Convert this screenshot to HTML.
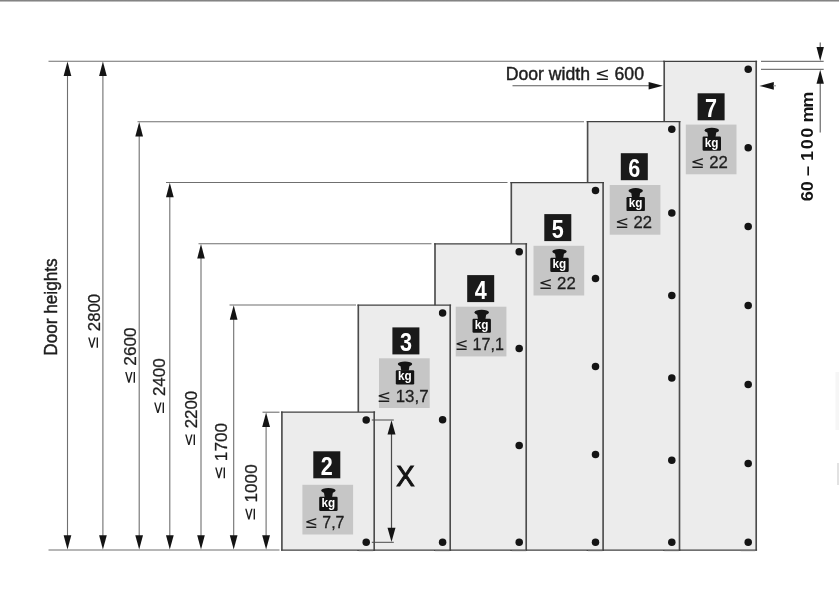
<!DOCTYPE html>
<html lang="en">
<head>
<meta charset="utf-8">
<title>Door heights</title>
<style>
html,body{margin:0;padding:0;background:#fff;}
body{width:839px;height:600px;overflow:hidden;}
svg{display:block;}
text{font-family:"Liberation Sans", sans-serif;}
</style>
</head>
<body>
<svg width="839" height="600" viewBox="0 0 839 600">
<defs><linearGradient id="tg" x1="0" y1="0" x2="0" y2="1"><stop offset="0" stop-color="#7a7a7a"/><stop offset="0.45" stop-color="#8c8c8c"/><stop offset="1" stop-color="#ffffff"/></linearGradient></defs>
<rect x="0" y="0" width="839" height="600" fill="#ffffff"/>
<rect x="0" y="0" width="839" height="2.2" fill="url(#tg)"/>
<rect x="835.5" y="372" width="3.5" height="58" fill="#f6f6f6"/>
<rect x="837" y="463" width="2" height="22" fill="#e2e2e2"/>
<g id="dims">
<line x1="48.5" y1="550.0" x2="279.5" y2="550.0" stroke="#6f6f6f" stroke-width="1.10"/>
<line x1="48.5" y1="61.3" x2="664.2" y2="61.3" stroke="#6f6f6f" stroke-width="1.10"/>
<line x1="67.5" y1="67.3" x2="67.5" y2="544.0" stroke="#6f6f6f" stroke-width="1.10"/>
<polygon points="67.5,61.6 63.6,76.0 71.3,76.0" fill="#141414"/>
<polygon points="67.5,549.6 63.6,535.2 71.3,535.2" fill="#141414"/>
<line x1="102.9" y1="67.3" x2="102.9" y2="544.0" stroke="#6f6f6f" stroke-width="1.10"/>
<polygon points="102.9,61.6 99.1,76.0 106.8,76.0" fill="#141414"/>
<polygon points="102.9,549.6 99.1,535.2 106.8,535.2" fill="#141414"/>
<line x1="137.5" y1="121.7" x2="584.0" y2="121.7" stroke="#6f6f6f" stroke-width="1.10"/>
<line x1="139.2" y1="127.7" x2="139.2" y2="544.0" stroke="#6f6f6f" stroke-width="1.10"/>
<polygon points="139.2,122.0 135.3,136.4 143.0,136.4" fill="#141414"/>
<polygon points="139.2,549.6 135.3,535.2 143.0,535.2" fill="#141414"/>
<line x1="166.0" y1="182.5" x2="507.5" y2="182.5" stroke="#6f6f6f" stroke-width="1.10"/>
<line x1="169.8" y1="188.5" x2="169.8" y2="544.0" stroke="#6f6f6f" stroke-width="1.10"/>
<polygon points="169.8,182.8 166.0,197.2 173.7,197.2" fill="#141414"/>
<polygon points="169.8,549.6 166.0,535.2 173.7,535.2" fill="#141414"/>
<line x1="198.5" y1="243.8" x2="431.5" y2="243.8" stroke="#6f6f6f" stroke-width="1.10"/>
<line x1="201.0" y1="249.8" x2="201.0" y2="544.0" stroke="#6f6f6f" stroke-width="1.10"/>
<polygon points="201.0,244.1 197.2,258.5 204.8,258.5" fill="#141414"/>
<polygon points="201.0,549.6 197.2,535.2 204.8,535.2" fill="#141414"/>
<line x1="229.5" y1="305.0" x2="356.0" y2="305.0" stroke="#6f6f6f" stroke-width="1.10"/>
<line x1="233.7" y1="311.0" x2="233.7" y2="544.0" stroke="#6f6f6f" stroke-width="1.10"/>
<polygon points="233.7,305.3 229.8,319.7 237.5,319.7" fill="#141414"/>
<polygon points="233.7,549.6 229.8,535.2 237.5,535.2" fill="#141414"/>
<line x1="262.5" y1="412.2" x2="279.5" y2="412.2" stroke="#6f6f6f" stroke-width="1.10"/>
<line x1="266.1" y1="418.2" x2="266.1" y2="544.0" stroke="#6f6f6f" stroke-width="1.10"/>
<polygon points="266.1,412.5 262.2,426.9 270.0,426.9" fill="#141414"/>
<polygon points="266.1,549.6 262.2,535.2 270.0,535.2" fill="#141414"/>
</g>
<g id="panel7">
<rect x="664.2" y="61.3" width="92.2" height="488.7" fill="#ececec"/>
<line x1="664.2" y1="60.7" x2="664.2" y2="550.6" stroke="#4c4c4c" stroke-width="1.65"/>
<line x1="756.2" y1="60.7" x2="756.2" y2="550.6" stroke="#4c4c4c" stroke-width="1.65"/>
<line x1="663.3" y1="61.3" x2="757.1" y2="61.3" stroke="#404040" stroke-width="1.25"/>
<line x1="663.3" y1="550.0" x2="757.1" y2="550.0" stroke="#404040" stroke-width="1.25"/>
<circle cx="748.2" cy="69.2" r="3.75" fill="#141414"/>
<circle cx="748.2" cy="147.8" r="3.75" fill="#141414"/>
<circle cx="748.2" cy="226.6" r="3.75" fill="#141414"/>
<circle cx="748.2" cy="305.5" r="3.75" fill="#141414"/>
<circle cx="748.2" cy="384.4" r="3.75" fill="#141414"/>
<circle cx="748.2" cy="463.4" r="3.75" fill="#141414"/>
<circle cx="748.2" cy="542.3" r="3.75" fill="#141414"/>
<line x1="740.7" y1="550.7" x2="755.2" y2="550.7" stroke="#7a7a7a" stroke-width="0.80"/>
<rect x="697.6" y="93.3" width="27" height="27" fill="#1a1a1a"/>
<text x="711.1" y="116.8" font-size="25" font-weight="bold" fill="#ffffff" text-anchor="middle" textLength="12" lengthAdjust="spacingAndGlyphs">7</text>
<rect x="685.8" y="124.6" width="50.7" height="49.7" fill="#c6c6c6"/>
<ellipse cx="711.8" cy="130.4" rx="7.2" ry="2.7" fill="#141414"/>
<polygon points="707.2,131.6 716.4,131.6 715.5,137.1 708.1,137.1" fill="#141414"/>
<rect x="702.6" y="136.6" width="18.4" height="14.1" rx="1.2" fill="#141414"/>
<text x="711.7" y="146.7" font-size="12.8" font-weight="bold" fill="#ffffff" text-anchor="middle" textLength="13.7" lengthAdjust="spacingAndGlyphs">kg</text>
<text x="690.49" y="168.0" font-size="17" fill="#1e1e1e" stroke="#1e1e1e" stroke-width="0.3" textLength="37.27" lengthAdjust="spacingAndGlyphs"><tspan font-family="DejaVu Sans, sans-serif" stroke="none">≤</tspan> 22</text>
</g>
<g id="panel6">
<rect x="587.6" y="121.7" width="92.1" height="428.3" fill="#ececec"/>
<line x1="587.6" y1="121.1" x2="587.6" y2="550.6" stroke="#4c4c4c" stroke-width="1.65"/>
<line x1="679.5" y1="121.1" x2="679.5" y2="550.6" stroke="#4c4c4c" stroke-width="1.65"/>
<line x1="586.7" y1="121.7" x2="680.4" y2="121.7" stroke="#404040" stroke-width="1.25"/>
<line x1="586.7" y1="550.0" x2="680.4" y2="550.0" stroke="#404040" stroke-width="1.25"/>
<circle cx="671.8" cy="129.3" r="3.75" fill="#141414"/>
<circle cx="671.8" cy="212.9" r="3.75" fill="#141414"/>
<circle cx="671.8" cy="295.6" r="3.75" fill="#141414"/>
<circle cx="671.8" cy="378.0" r="3.75" fill="#141414"/>
<circle cx="671.8" cy="460.2" r="3.75" fill="#141414"/>
<circle cx="671.8" cy="542.3" r="3.75" fill="#141414"/>
<line x1="664.3" y1="550.7" x2="678.8" y2="550.7" stroke="#7a7a7a" stroke-width="0.80"/>
<rect x="620.8" y="153.2" width="27" height="27" fill="#1a1a1a"/>
<text x="634.3" y="176.7" font-size="25" font-weight="bold" fill="#ffffff" text-anchor="middle" textLength="12" lengthAdjust="spacingAndGlyphs">6</text>
<rect x="609.7" y="185.0" width="50.7" height="49.7" fill="#c6c6c6"/>
<ellipse cx="635.7" cy="190.8" rx="7.2" ry="2.7" fill="#141414"/>
<polygon points="631.1,192.0 640.3,192.0 639.4,197.5 632.0,197.5" fill="#141414"/>
<rect x="626.5" y="197.0" width="18.4" height="14.1" rx="1.2" fill="#141414"/>
<text x="635.6" y="207.1" font-size="12.8" font-weight="bold" fill="#ffffff" text-anchor="middle" textLength="13.7" lengthAdjust="spacingAndGlyphs">kg</text>
<text x="614.89" y="228.4" font-size="17" fill="#1e1e1e" stroke="#1e1e1e" stroke-width="0.3" textLength="37.00" lengthAdjust="spacingAndGlyphs"><tspan font-family="DejaVu Sans, sans-serif" stroke="none">≤</tspan> 22</text>
</g>
<g id="panel5">
<rect x="511.3" y="182.5" width="92.0" height="367.5" fill="#ececec"/>
<line x1="511.3" y1="181.9" x2="511.3" y2="550.6" stroke="#4c4c4c" stroke-width="1.65"/>
<line x1="603.1" y1="181.9" x2="603.1" y2="550.6" stroke="#4c4c4c" stroke-width="1.65"/>
<line x1="510.4" y1="182.5" x2="604.0" y2="182.5" stroke="#404040" stroke-width="1.25"/>
<line x1="510.4" y1="550.0" x2="604.0" y2="550.0" stroke="#404040" stroke-width="1.25"/>
<circle cx="595.5" cy="190.4" r="3.75" fill="#141414"/>
<circle cx="595.5" cy="278.4" r="3.75" fill="#141414"/>
<circle cx="595.5" cy="366.4" r="3.75" fill="#141414"/>
<circle cx="595.5" cy="454.4" r="3.75" fill="#141414"/>
<circle cx="595.5" cy="542.3" r="3.75" fill="#141414"/>
<line x1="588.0" y1="550.7" x2="602.5" y2="550.7" stroke="#7a7a7a" stroke-width="0.80"/>
<rect x="544.3" y="214.1" width="27" height="27" fill="#1a1a1a"/>
<text x="557.8" y="237.6" font-size="25" font-weight="bold" fill="#ffffff" text-anchor="middle" textLength="12" lengthAdjust="spacingAndGlyphs">5</text>
<rect x="533.5" y="245.8" width="50.7" height="49.7" fill="#c6c6c6"/>
<ellipse cx="559.5" cy="251.6" rx="7.2" ry="2.7" fill="#141414"/>
<polygon points="554.9,252.8 564.1,252.8 563.2,258.3 555.8,258.3" fill="#141414"/>
<rect x="550.3" y="257.8" width="18.4" height="14.1" rx="1.2" fill="#141414"/>
<text x="559.4" y="267.9" font-size="12.8" font-weight="bold" fill="#ffffff" text-anchor="middle" textLength="13.7" lengthAdjust="spacingAndGlyphs">kg</text>
<text x="538.43" y="289.2" font-size="17" fill="#1e1e1e" stroke="#1e1e1e" stroke-width="0.3" textLength="37.27" lengthAdjust="spacingAndGlyphs"><tspan font-family="DejaVu Sans, sans-serif" stroke="none">≤</tspan> 22</text>
</g>
<g id="panel4">
<rect x="435.0" y="243.8" width="91.4" height="306.2" fill="#ececec"/>
<line x1="435.0" y1="243.2" x2="435.0" y2="550.6" stroke="#4c4c4c" stroke-width="1.65"/>
<line x1="526.2" y1="243.2" x2="526.2" y2="550.6" stroke="#4c4c4c" stroke-width="1.65"/>
<line x1="434.1" y1="243.8" x2="527.1" y2="243.8" stroke="#404040" stroke-width="1.25"/>
<line x1="434.1" y1="550.0" x2="527.1" y2="550.0" stroke="#404040" stroke-width="1.25"/>
<circle cx="519.2" cy="251.8" r="3.75" fill="#141414"/>
<circle cx="519.2" cy="348.4" r="3.75" fill="#141414"/>
<circle cx="519.2" cy="445.4" r="3.75" fill="#141414"/>
<circle cx="519.2" cy="542.3" r="3.75" fill="#141414"/>
<line x1="511.7" y1="550.7" x2="526.2" y2="550.7" stroke="#7a7a7a" stroke-width="0.80"/>
<rect x="467.2" y="275.1" width="27" height="27" fill="#1a1a1a"/>
<text x="480.7" y="298.6" font-size="25" font-weight="bold" fill="#ffffff" text-anchor="middle" textLength="12" lengthAdjust="spacingAndGlyphs">4</text>
<rect x="455.7" y="306.7" width="50.7" height="49.7" fill="#c6c6c6"/>
<ellipse cx="481.7" cy="312.5" rx="7.2" ry="2.7" fill="#141414"/>
<polygon points="477.1,313.7 486.3,313.7 485.4,319.2 478.0,319.2" fill="#141414"/>
<rect x="472.5" y="318.7" width="18.4" height="14.1" rx="1.2" fill="#141414"/>
<text x="481.6" y="328.8" font-size="12.8" font-weight="bold" fill="#ffffff" text-anchor="middle" textLength="13.7" lengthAdjust="spacingAndGlyphs">kg</text>
<text x="454.63" y="350.1" font-size="17" fill="#1e1e1e" stroke="#1e1e1e" stroke-width="0.3" textLength="49.30" lengthAdjust="spacingAndGlyphs"><tspan font-family="DejaVu Sans, sans-serif" stroke="none">≤</tspan> 17,1</text>
</g>
<g id="panel3">
<rect x="358.3" y="305.2" width="92.1" height="244.8" fill="#ececec"/>
<line x1="358.3" y1="304.6" x2="358.3" y2="550.6" stroke="#4c4c4c" stroke-width="1.65"/>
<line x1="450.2" y1="304.6" x2="450.2" y2="550.6" stroke="#4c4c4c" stroke-width="1.65"/>
<line x1="357.4" y1="305.2" x2="451.1" y2="305.2" stroke="#404040" stroke-width="1.25"/>
<line x1="357.4" y1="550.0" x2="451.1" y2="550.0" stroke="#404040" stroke-width="1.25"/>
<circle cx="442.6" cy="312.9" r="3.75" fill="#141414"/>
<circle cx="442.6" cy="419.8" r="3.75" fill="#141414"/>
<circle cx="442.6" cy="542.3" r="3.75" fill="#141414"/>
<line x1="435.1" y1="550.7" x2="449.6" y2="550.7" stroke="#7a7a7a" stroke-width="0.80"/>
<rect x="392.4" y="327.4" width="27" height="27" fill="#1a1a1a"/>
<text x="405.9" y="350.9" font-size="25" font-weight="bold" fill="#ffffff" text-anchor="middle" textLength="12" lengthAdjust="spacingAndGlyphs">3</text>
<rect x="379.0" y="358.3" width="50.7" height="49.7" fill="#c6c6c6"/>
<ellipse cx="405.0" cy="364.1" rx="7.2" ry="2.7" fill="#141414"/>
<polygon points="400.4,365.3 409.6,365.3 408.7,370.8 401.3,370.8" fill="#141414"/>
<rect x="395.8" y="370.3" width="18.4" height="14.1" rx="1.2" fill="#141414"/>
<text x="404.9" y="380.4" font-size="12.8" font-weight="bold" fill="#ffffff" text-anchor="middle" textLength="13.7" lengthAdjust="spacingAndGlyphs">kg</text>
<text x="376.86" y="401.7" font-size="17" fill="#1e1e1e" stroke="#1e1e1e" stroke-width="0.3" textLength="51.69" lengthAdjust="spacingAndGlyphs"><tspan font-family="DejaVu Sans, sans-serif" stroke="none">≤</tspan> 13,7</text>
</g>
<g id="panel2">
<rect x="281.9" y="412.0" width="92.5" height="138.0" fill="#ececec"/>
<line x1="281.9" y1="411.4" x2="281.9" y2="550.6" stroke="#4c4c4c" stroke-width="1.65"/>
<line x1="374.2" y1="411.4" x2="374.2" y2="550.6" stroke="#4c4c4c" stroke-width="1.65"/>
<line x1="281.0" y1="412.0" x2="375.1" y2="412.0" stroke="#404040" stroke-width="1.25"/>
<line x1="281.0" y1="550.0" x2="375.1" y2="550.0" stroke="#404040" stroke-width="1.25"/>
<circle cx="366.2" cy="420.0" r="3.75" fill="#141414"/>
<circle cx="366.2" cy="542.3" r="3.75" fill="#141414"/>
<line x1="358.7" y1="550.7" x2="373.2" y2="550.7" stroke="#7a7a7a" stroke-width="0.80"/>
<rect x="313.3" y="451.3" width="27" height="27" fill="#1a1a1a"/>
<text x="326.8" y="474.8" font-size="25" font-weight="bold" fill="#ffffff" text-anchor="middle" textLength="12" lengthAdjust="spacingAndGlyphs">2</text>
<rect x="302.4" y="484.8" width="50.7" height="49.7" fill="#c6c6c6"/>
<ellipse cx="328.4" cy="490.6" rx="7.2" ry="2.7" fill="#141414"/>
<polygon points="323.8,491.8 333.0,491.8 332.1,497.3 324.7,497.3" fill="#141414"/>
<rect x="319.2" y="496.8" width="18.4" height="14.1" rx="1.2" fill="#141414"/>
<text x="328.3" y="506.9" font-size="12.8" font-weight="bold" fill="#ffffff" text-anchor="middle" textLength="13.7" lengthAdjust="spacingAndGlyphs">kg</text>
<text x="304.57" y="528.2" font-size="17" fill="#1e1e1e" stroke="#1e1e1e" stroke-width="0.3" textLength="39.92" lengthAdjust="spacingAndGlyphs"><tspan font-family="DejaVu Sans, sans-serif" stroke="none">≤</tspan> 7,7</text>
</g>
<g id="xdim">
<line x1="371.8" y1="420.0" x2="393.8" y2="420.0" stroke="#4a4a4a" stroke-width="1.00"/>
<line x1="371.8" y1="542.3" x2="393.8" y2="542.3" stroke="#4a4a4a" stroke-width="1.00"/>
<line x1="391.5" y1="426.0" x2="391.5" y2="536.0" stroke="#4a4a4a" stroke-width="1.20"/>
<polygon points="391.5,420.3 387.5,434.5 395.5,434.5" fill="#141414"/>
<polygon points="391.5,542.0 387.5,527.8 395.5,527.8" fill="#141414"/>
<text x="405.4" y="485.7" font-size="29" fill="#141414" stroke="#141414" stroke-width="1.0" text-anchor="middle" textLength="18.4" lengthAdjust="spacingAndGlyphs">X</text>
</g>
<g id="doorwidth">
<line x1="512.5" y1="85.8" x2="652.0" y2="85.8" stroke="#5a5a5a" stroke-width="1.10"/>
<polygon points="662.8,85.8 648.6,82.1 648.6,89.5" fill="#141414"/>
<polygon points="759.4,85.9 773.8,82.1 773.8,89.7" fill="#141414"/>
<line x1="773.0" y1="85.8" x2="776.0" y2="85.8" stroke="#8a8a8a" stroke-width="1.00"/>
<text x="505.75" y="79.9" font-size="18" fill="#1e1e1e" stroke="#1e1e1e" stroke-width="0.45" textLength="138.25" lengthAdjust="spacingAndGlyphs">Door width <tspan font-family="DejaVu Sans, sans-serif" stroke="none">≤</tspan> 600</text>
</g>
<g id="gap">
<line x1="761.0" y1="61.3" x2="823.7" y2="61.3" stroke="#555555" stroke-width="1.00"/>
<line x1="761.0" y1="69.3" x2="823.7" y2="69.3" stroke="#555555" stroke-width="1.00"/>
<line x1="820.2" y1="42.5" x2="820.2" y2="50.0" stroke="#4a4a4a" stroke-width="1.00"/>
<line x1="820.2" y1="80.0" x2="820.2" y2="132.5" stroke="#4a4a4a" stroke-width="1.00"/>
<polygon points="820.2,61.0 816.5,47.0 823.9,47.0" fill="#141414"/>
<polygon points="820.2,69.8 816.5,83.8 823.9,83.8" fill="#141414"/>
<text transform="translate(813.2 201.24) rotate(-90)" font-size="17" font-weight="bold" fill="#141414" textLength="108.25" lengthAdjust="spacingAndGlyphs">60 – <tspan letter-spacing="1.5">100</tspan><tspan dx="-1.5"> </tspan><tspan letter-spacing="-1.2">mm</tspan></text>
</g>
<g id="labels">
<text transform="translate(57.3 355.65) rotate(-90)" font-size="18.8" fill="#1e1e1e" stroke="#1e1e1e" stroke-width="0.45" textLength="97.25" lengthAdjust="spacingAndGlyphs">Door heights</text>
<text transform="translate(99.7 349.8) rotate(-90)" font-size="17" fill="#1e1e1e" stroke="#1e1e1e" stroke-width="0.3" textLength="55.8" lengthAdjust="spacingAndGlyphs"><tspan font-family="DejaVu Sans, sans-serif" stroke="none" dy="-1.3">≤</tspan><tspan dy="1.3"> </tspan>2800</text>
<text transform="translate(136.0 384.8) rotate(-90)" font-size="17" fill="#1e1e1e" stroke="#1e1e1e" stroke-width="0.3" textLength="57.3" lengthAdjust="spacingAndGlyphs"><tspan font-family="DejaVu Sans, sans-serif" stroke="none" dy="-1.3">≤</tspan><tspan dy="1.3"> </tspan>2600</text>
<text transform="translate(164.8 415.1) rotate(-90)" font-size="17" fill="#1e1e1e" stroke="#1e1e1e" stroke-width="0.3" textLength="56.9" lengthAdjust="spacingAndGlyphs"><tspan font-family="DejaVu Sans, sans-serif" stroke="none" dy="-1.3">≤</tspan><tspan dy="1.3"> </tspan>2400</text>
<text transform="translate(196.7 447.1) rotate(-90)" font-size="17" fill="#1e1e1e" stroke="#1e1e1e" stroke-width="0.3" textLength="56.3" lengthAdjust="spacingAndGlyphs"><tspan font-family="DejaVu Sans, sans-serif" stroke="none" dy="-1.3">≤</tspan><tspan dy="1.3"> </tspan>2200</text>
<text transform="translate(226.6 480.3) rotate(-90)" font-size="17" fill="#1e1e1e" stroke="#1e1e1e" stroke-width="0.3" textLength="57.3" lengthAdjust="spacingAndGlyphs"><tspan font-family="DejaVu Sans, sans-serif" stroke="none" dy="-1.3">≤</tspan><tspan dy="1.3"> </tspan>1700</text>
<text transform="translate(256.5 521.6) rotate(-90)" font-size="17" fill="#1e1e1e" stroke="#1e1e1e" stroke-width="0.3" textLength="57.3" lengthAdjust="spacingAndGlyphs"><tspan font-family="DejaVu Sans, sans-serif" stroke="none" dy="-1.3">≤</tspan><tspan dy="1.3"> </tspan>1000</text>
</g>
</svg>
</body>
</html>
